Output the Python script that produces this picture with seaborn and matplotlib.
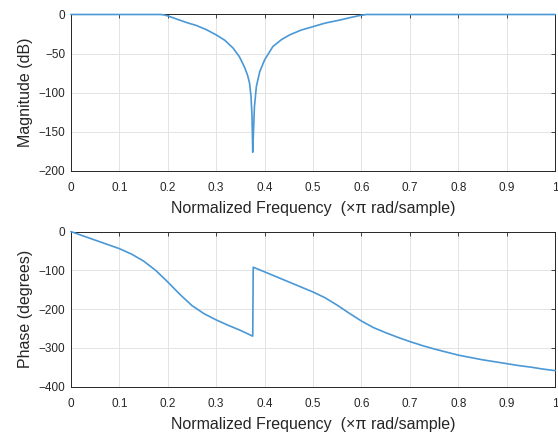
import matplotlib
matplotlib.use("Agg")
import matplotlib.pyplot as plt
import seaborn as sns
import pandas as pd

# values (freqz of a notch filter)
mag_freq = [0, 0.1, 0.185, 0.193, 0.2, 0.208, 0.216, 0.224, 0.24, 0.259, 0.28, 0.3,
            0.318, 0.335, 0.348, 0.359, 0.365, 0.369, 0.372, 0.374, 0.3755, 0.377,
            0.379, 0.383, 0.39, 0.4, 0.417, 0.435, 0.452, 0.475, 0.5, 0.525, 0.556,
            0.58, 0.595, 0.61, 0.7, 0.8, 0.9, 1.0]
mag_db = [0, 0, 0, -0.6, -1.8, -3.5, -5.3, -7, -10.5, -14, -19.5, -26,
          -33, -43, -54, -68, -78, -88, -105, -130, -176, -150,
          -118, -92, -73, -58, -41, -32, -26, -20, -15.5, -11, -7,
          -3.5, -1.5, 0, 0, 0, 0, 0]

ph_freq = [0, 0.025, 0.05, 0.075, 0.1, 0.125, 0.15, 0.175, 0.2, 0.225, 0.25, 0.275,
           0.3, 0.325, 0.35, 0.3755, 0.3765, 0.4, 0.425, 0.45, 0.475, 0.5, 0.525,
           0.55, 0.575, 0.6, 0.625, 0.65, 0.675, 0.7, 0.725, 0.75, 0.775, 0.8,
           0.825, 0.85, 0.875, 0.9, 0.925, 0.95, 0.975, 1.0]
ph_deg = [0, -11, -22, -33, -44, -58, -76, -100, -130, -162, -191, -212,
          -228, -242, -255, -270, -92, -104, -117, -130, -143, -156, -171,
          -190, -211, -231, -248, -261, -273, -284, -294, -303, -311, -319,
          -325, -331, -336, -341, -346, -350, -355, -359]

xticks = [0, 0.1, 0.2, 0.3, 0.4, 0.5, 0.6, 0.7, 0.8, 0.9, 1]
xticklabels = ['0', '0.1', '0.2', '0.3', '0.4', '0.5', '0.6', '0.7', '0.8', '0.9', '1']
xlabel = 'Normalized Frequency  (\u00d7\u03c0 rad/sample)'

sns.set_style("white")
plt.rcParams['font.family'] = ['Liberation Sans', 'DejaVu Sans']

line_color = '#4a98d6'
grid_color = '#e3e3e3'
text_color = '#262626'

fig = plt.figure(figsize=(5.58, 4.34), dpi=100)
ax1 = fig.add_axes([0.127, 0.606, 0.868, 0.3606])
ax2 = fig.add_axes([0.127, 0.1094, 0.868, 0.357])

mag = pd.DataFrame({'f': mag_freq, 'v': mag_db})
ph = pd.DataFrame({'f': ph_freq, 'v': ph_deg})

sns.lineplot(data=mag, x='f', y='v', ax=ax1, color=line_color, lw=1.2, sort=False,
             clip_on=False, zorder=3)
sns.lineplot(data=ph, x='f', y='v', ax=ax2, color=line_color, lw=1.2, sort=False,
             clip_on=False, zorder=3)

for ax, ylim, yticks, ylabel in [
        (ax1, (-200, 0), [-200, -150, -100, -50, 0], 'Magnitude (dB)'),
        (ax2, (-400, 0), [-400, -300, -200, -100, 0], 'Phase (degrees)')]:
    ax.set_xlim(0, 1)
    ax.set_ylim(*ylim)
    ax.set_xticks(xticks)
    ax.set_xticklabels(xticklabels)
    ax.set_yticks(yticks)
    ax.set_xlabel(xlabel, fontsize=11.5, color=text_color, labelpad=5)
    ax.set_ylabel(ylabel, fontsize=11.5, color=text_color, labelpad=4)
    ax.grid(True, color=grid_color, lw=0.7)
    ax.set_axisbelow(True)
    ax.tick_params(direction='in', top=True, right=True, length=3, width=0.6,
                   labelsize=8.5, colors=text_color)
    ax.tick_params(axis='x', pad=8)
    ax.tick_params(axis='y', pad=4)
    for s in ax.spines.values():
        s.set_color('#262626')
        s.set_linewidth(0.7)

fig.savefig('out.png', dpi=100)
